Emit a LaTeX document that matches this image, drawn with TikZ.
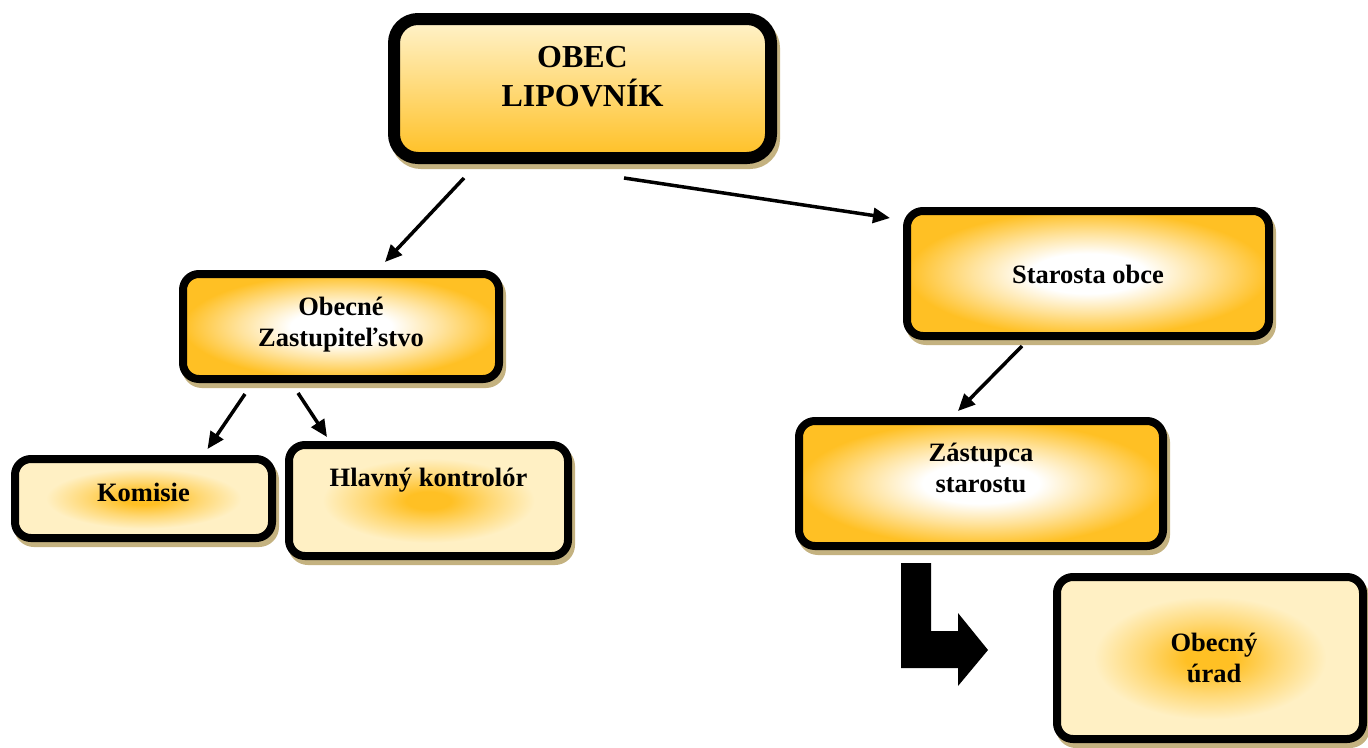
\documentclass[tikz,border=0pt]{standalone}
\usepackage{fontspec}
\setmainfont{Liberation Serif}
\usetikzlibrary{arrows.meta,shadows}

\definecolor{boxorange}{RGB}{255,192,36}
\definecolor{boxcream}{RGB}{255,240,196}
\definecolor{titletop}{RGB}{255,243,204}
\definecolor{shadowtan}{RGB}{196,178,128}

\pgfdeclareverticalshading{titlefade}{100bp}{color(0bp)=(boxorange); color(25bp)=(boxorange); color(75bp)=(titletop); color(100bp)=(titletop)}
\pgfdeclareradialshading{lightcore}{\pgfpoint{0bp}{0bp}}{color(0bp)=(white); color(8bp)=(white); color(16bp)=(boxorange!45!white); color(25bp)=(boxorange); color(50bp)=(boxorange)}
\pgfdeclareradialshading{goldcore}{\pgfpoint{0bp}{0bp}}{color(0bp)=(boxorange); color(4bp)=(boxorange); color(11bp)=(boxorange!50!boxcream); color(19bp)=(boxcream); color(50bp)=(boxcream)}

\begin{document}
\begin{tikzpicture}[x=1pt, y=-1pt]
	\tikzset{UnitStyle/.style =
		{draw,
			line width = #1,
			rounded corners = 16pt,
			drop shadow = {shadow xshift=3pt, shadow yshift=-5pt, opacity=1,
				fill=shadowtan, draw=shadowtan, line width=#1}},
		UnitStyle/.default = 8pt,
		TextStyle/.style = {align=center, font=\fontsize{26.5}{31}\selectfont\bfseries},
		TitleText/.style = {align=center, font=\fontsize{32}{39}\selectfont\bfseries},
		LinkStyle/.style = {line width=3.5pt, -{Triangle[length=17pt, width=15pt]}}}
	\useasboundingbox (0,0) rectangle (1368,747);
	% boxes
	\node[UnitStyle=12pt, rounded corners=24pt, shading=titlefade,
		minimum width=377pt, minimum height=139pt,
		label={[TitleText, yshift=11.5pt]center:{OBEC\\LIPOVNÍK}}] (obec) at (582.5,88.5) {};
	\node[UnitStyle, shading=lightcore, minimum width=316pt, minimum height=105pt,
		label={[TextStyle, yshift=2pt]center:{Obecné\\Zastupiteľstvo}}] (zastup) at (341,326.5) {};
	\node[UnitStyle, shading=goldcore, minimum width=257pt, minimum height=79pt,
		label={[TextStyle, yshift=6pt]center:Komisie}] (komisie) at (143.5,498.5) {};
	\node[UnitStyle, shading=goldcore, minimum width=279pt, minimum height=111pt,
		label={[TextStyle, yshift=20pt]center:Hlavný kontrolór}] (kontrolor) at (428.5,500.5) {};
	\node[UnitStyle, shading=lightcore, minimum width=362pt, minimum height=125pt,
		label={[TextStyle, yshift=-1pt]center:Starosta obce}] (starosta) at (1088,273.5) {};
	\node[UnitStyle, shading=lightcore, minimum width=364pt, minimum height=125pt,
		label={[TextStyle, yshift=15.5pt]center:{Zástupca\\starostu}}] (zastupca) at (981,483.5) {};
	\node[UnitStyle, shading=goldcore, minimum width=306pt, minimum height=162pt,
		label={[TextStyle, xshift=4pt]center:{Obecný\\úrad}}] (urad) at (1210,658) {};
	% links
	\draw[LinkStyle] ([xshift=-118.5pt, yshift=-14pt]obec.south) -- ([xshift=44pt, yshift=8pt]zastup.north);
	\draw[LinkStyle] ([xshift=41.5pt, yshift=-14pt]obec.south) -- ([xshift=-13pt, yshift=-11pt]starosta.north west);
	\draw[LinkStyle] ([xshift=-96pt, yshift=-11pt]zastup.south) -- ([xshift=64pt, yshift=6pt]komisie.north);
	\draw[LinkStyle] ([xshift=-43pt, yshift=-10pt]zastup.south) -- ([xshift=-101.5pt, yshift=4pt]kontrolor.north);
	\draw[LinkStyle] ([xshift=-66pt, yshift=-6pt]starosta.south) -- ([xshift=-23pt, yshift=6pt]zastupca.north);
	% bent block arrow
	\fill[shift={(zastupca.south west)}] (106,13) -- (136,13) -- (136,81) -- (163,81) -- (163,63)
		-- (193,100) -- (163,136) -- (163,118) -- (106,118) -- cycle;
\end{tikzpicture}
\end{document}
